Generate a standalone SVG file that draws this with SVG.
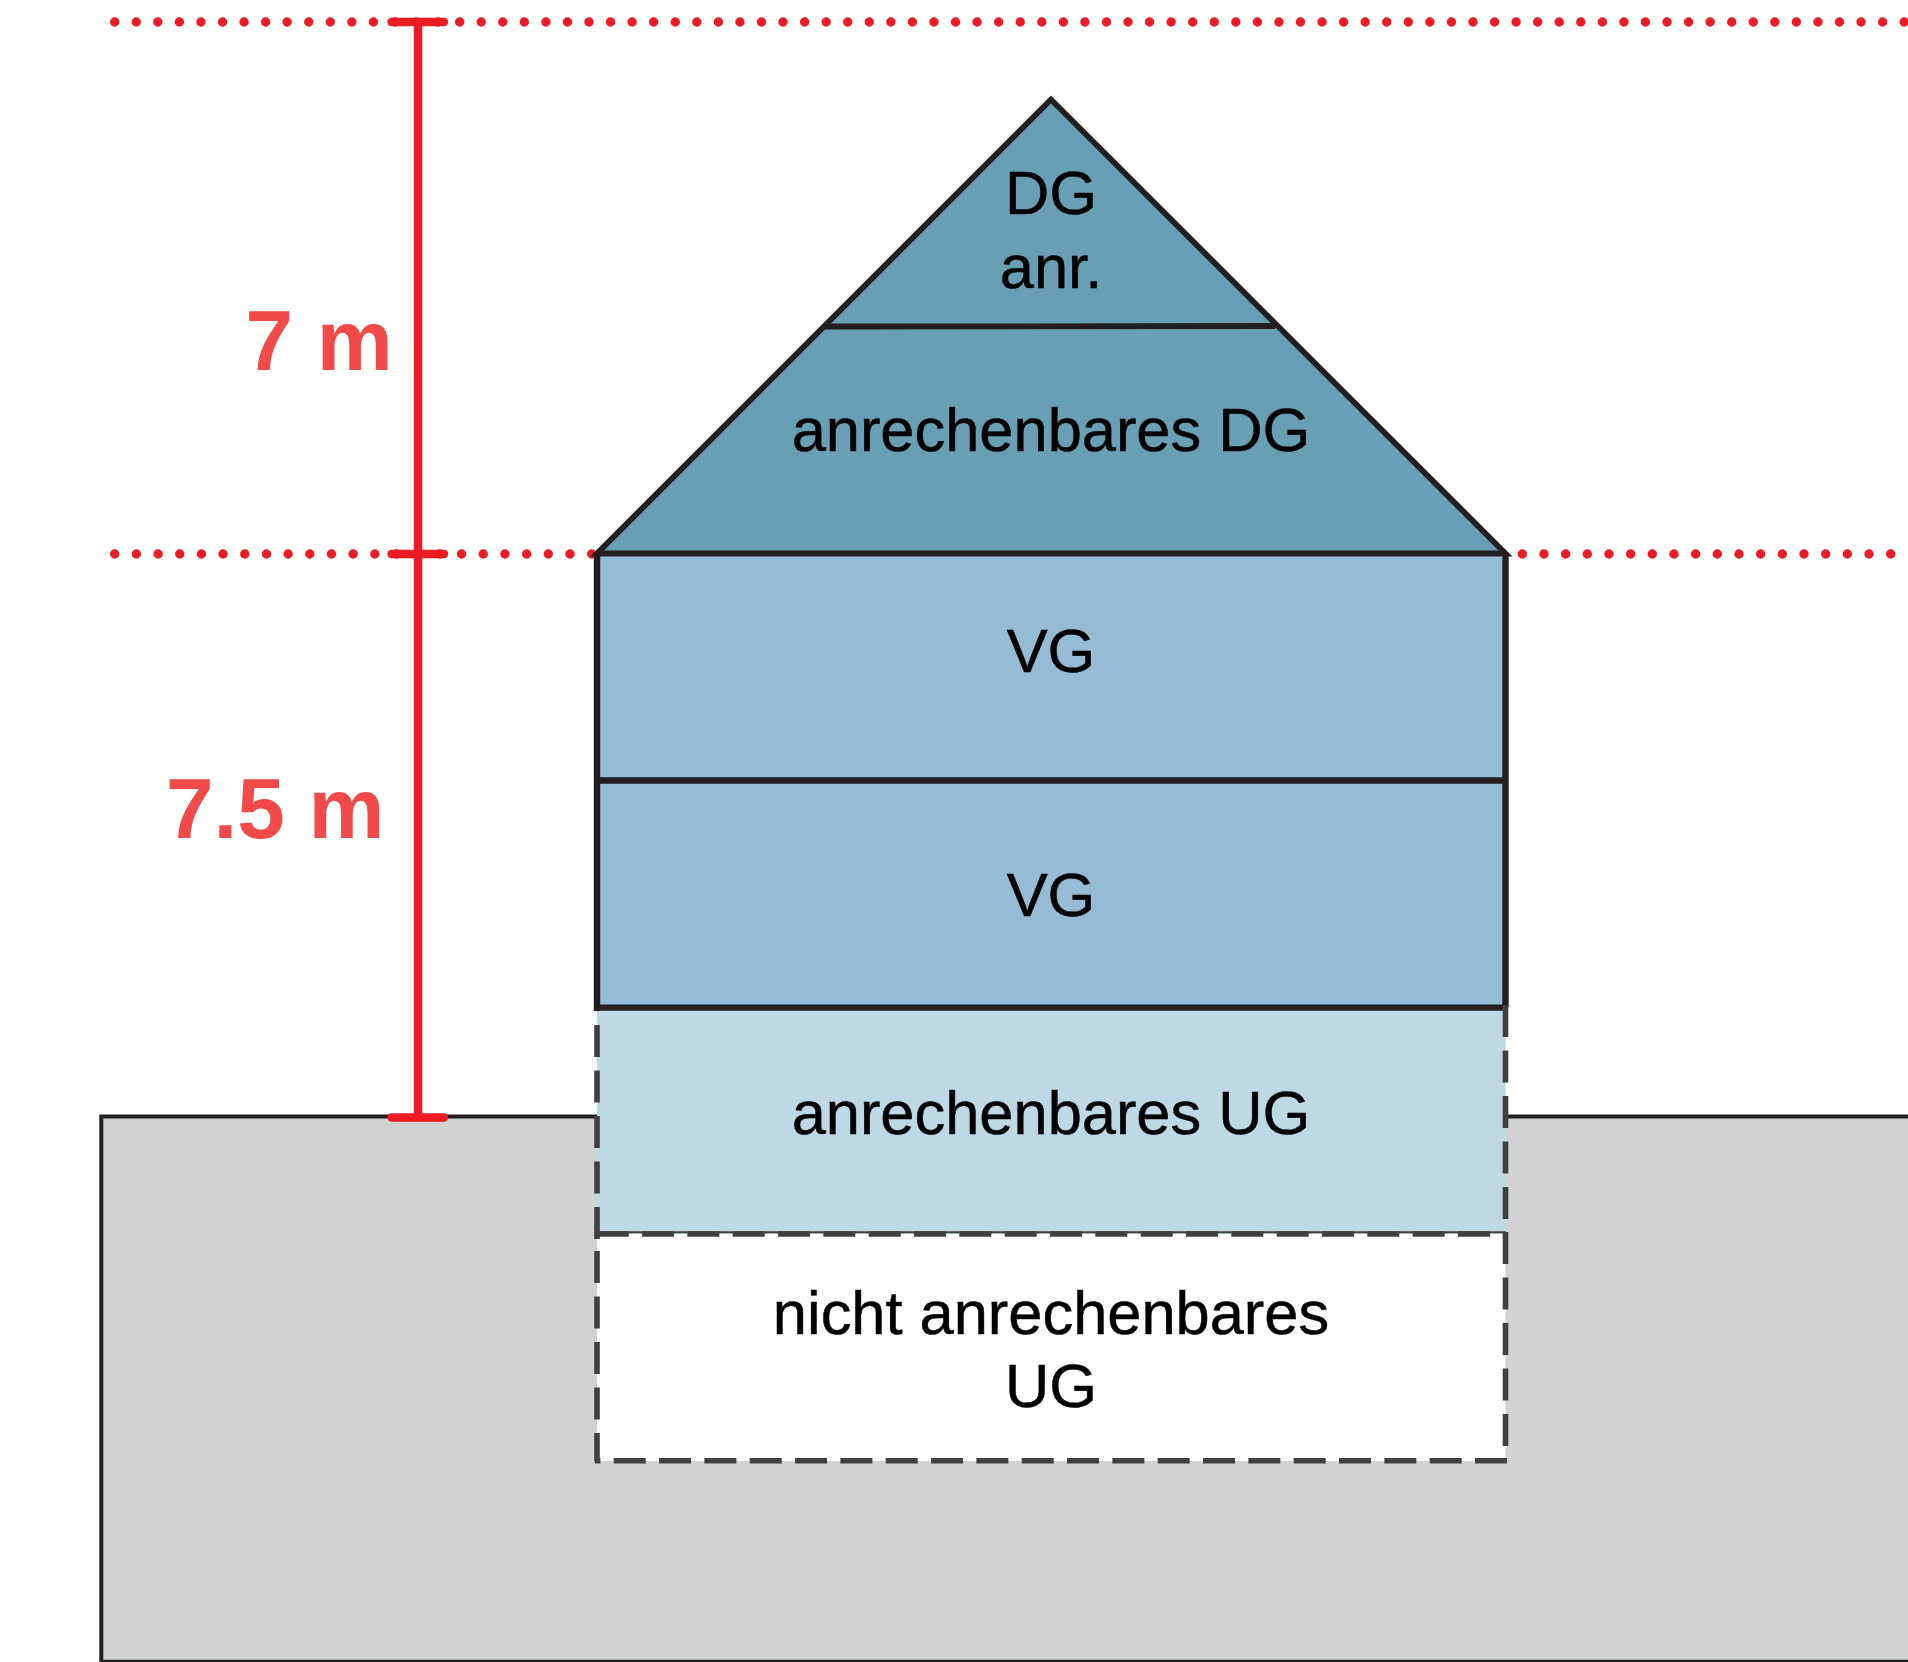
<svg xmlns="http://www.w3.org/2000/svg" width="1908" height="1662" viewBox="0 0 1908 1662">
<style>
.lbl{font-family:"Liberation Sans",Arial,sans-serif;font-size:61.4px;fill:#000;stroke:#000;stroke-width:.5;text-anchor:middle}
.dim{font-family:"Liberation Sans",Arial,sans-serif;font-size:85.5px;font-weight:700;fill:#f24a48}
.solid{stroke:#231f20;stroke-width:6.4;fill:none}
.roof{stroke:#231f20;stroke-width:5.8;fill:none;stroke-miterlimit:10}
.dash{stroke:#404040;stroke-width:5.6;fill:none}
.d1{stroke-dasharray:32 13.5}
.d2{stroke-dasharray:32 13.33}
.thin{stroke:#404040;stroke-width:2;fill:none}
.dot{stroke:#ed1c24;stroke-width:9.4;stroke-linecap:round;fill:none}
.bar{stroke:#ed1c24;stroke-width:8.4;stroke-linecap:round;fill:none}
.red{stroke:#ed1c24;stroke-width:8.4;fill:none}
</style>
<rect width="1908" height="1662" fill="#fff"/>
<g id="ground"><path d="M1908 1116.4H101.3V1661.7H1908" fill="#d1d3d2" stroke="#231f20" stroke-width="4"/></g>
<g id="dg-anr"><polygon points="1051,99.5 1275,326 825,326.5" fill="#689fb5"/><text class="lbl" x="1051" y="214">DG</text><text class="lbl" x="1051" y="288">anr.</text></g>
<g id="dg"><polygon points="825,326.5 1275,326 1505.5,553 597,553" fill="#689fb5"/><text class="lbl" x="1051" y="450.5">anrechenbares DG</text></g>
<g id="vg-upper"><rect x="597" y="553" width="908.5" height="227.5" fill="#95bbd5"/><text class="lbl" x="1051" y="671.5">VG</text></g>
<g id="vg-lower"><rect x="597" y="780.5" width="908.5" height="227" fill="#95bbd5"/><text class="lbl" x="1051" y="915.5">VG</text></g>
<g id="ug"><rect x="597" y="1007.5" width="908.5" height="226.5" fill="#bcd9e5"/><text class="lbl" x="1051" y="1133.5">anrechenbares UG</text></g>
<g id="ug-lower"><rect x="597" y="1234" width="908.5" height="227" fill="#fff"/><text class="lbl" x="1051" y="1333.5">nicht anrechenbares</text><text class="lbl" x="1051" y="1406.5">UG</text></g>
<g id="connectors">
<path class="dot" stroke-dasharray="0 21.56" d="M114.7 22H1908"/>
<path class="dot" stroke-dasharray="0 21.68" d="M114.7 554H593"/>
<path class="dot" stroke-dasharray="0 21.67" d="M1522.3 554H1908"/>
<path class="roof" d="M597 553.5L1051 99.5L1505.5 553.5Z"/>
<path class="roof" d="M825 326.5L1275 326"/>
<path class="solid" d="M597 780.5H1505.5M597 1007.6H1505.5M597 553V1011M1505.5 553V1007"/>
<path class="dash d1" d="M597 1025V1239M1505.5 1005V1232M597 1251V1461M1505.5 1232V1446"/>
<path class="dash d2" d="M1507 1460.8H594.7M1490 1234H596.7"/>
<path class="thin" d="M597 1232.3H1505.5"/>
<path class="red" d="M418 22V1117"/>
<path class="bar" d="M391.5 22H444M391.5 554H444M391.5 1117.5H444"/>
</g>
<g id="dim-labels"><text class="dim" x="245.5" y="370">7 m</text><text class="dim" x="166" y="837.5">7.5 m</text></g>
</svg>
